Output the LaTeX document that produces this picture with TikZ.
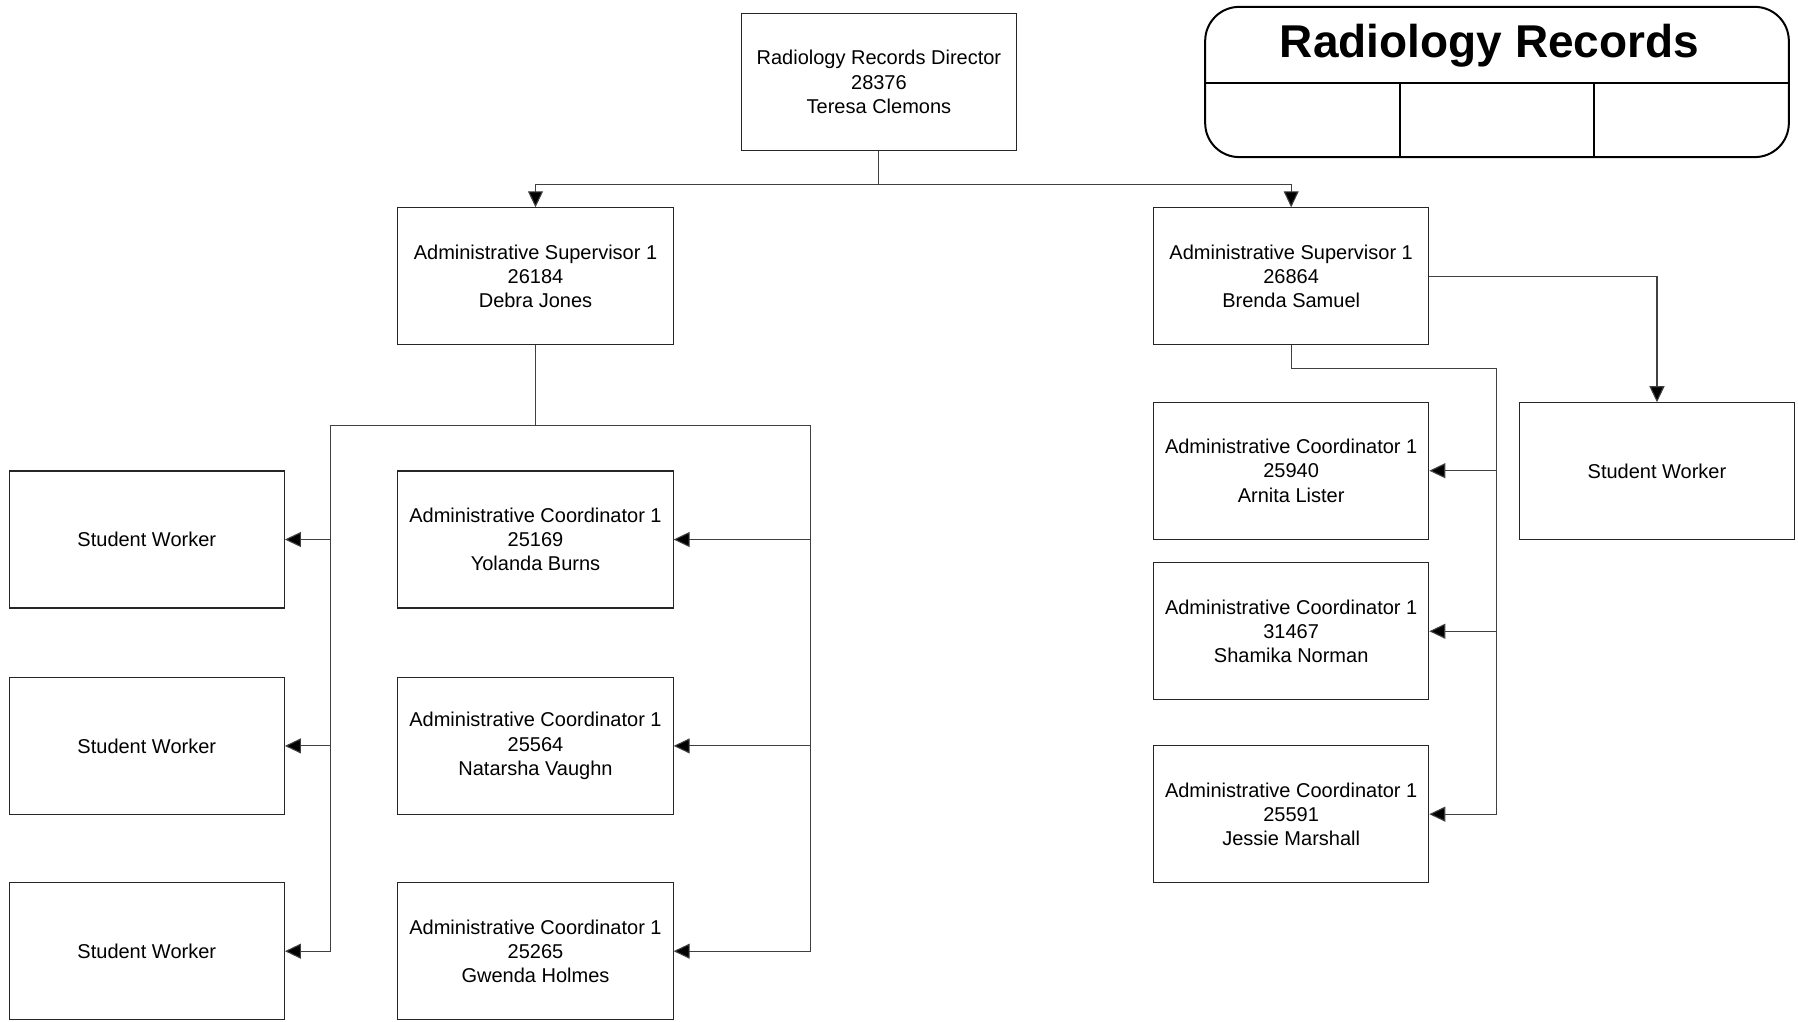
\documentclass[tikz,border=0pt]{standalone}
\usepackage{fontspec}
\setmainfont{Liberation Sans}
\usetikzlibrary{arrows.meta}
\begin{document}
\begin{tikzpicture}[x=0.57335pt,y=-0.57335pt,
  orgbox/.style={draw=black!85,line width=0.55pt,minimum width=137.6pt,minimum height=68.5pt,
     inner sep=0pt,align=center,font=\fontsize{10}{12.1}\selectfont},
  link/.style={draw=black!75,line width=0.55pt},
  arr/.style={link,-{Triangle[length=8pt,width=7.5pt,fill=black]}}]
\useasboundingbox (0,0) rectangle (1568,890.4);
% title block
\draw[line width=1pt,rounded corners=17pt] (1051,6) rectangle (1560,137);
\draw[line width=1pt] (1051,72) -- (1560,72);
\draw[line width=1pt] (1221,72) -- (1221,137);
\draw[line width=1pt] (1390,72) -- (1390,137);
\node[font=\fontsize{23}{27}\selectfont\bfseries] (title) at (1299,40) {Radiology Records};
% nodes
\node[orgbox] (dir) at (766.5,71.5) {Radiology Records Director\\28376\\Teresa Clemons};
\node[orgbox] (sup1) at (467,241) {Administrative Supervisor 1\\26184\\Debra Jones};
\node[orgbox] (sup2) at (1126,241) {Administrative Supervisor 1\\26864\\Brenda Samuel};
\node[orgbox] (sw1) at (128,470.5) {Student Worker};
\node[orgbox] (sw2) at (128,650.5) {Student Worker};
\node[orgbox] (sw3) at (128,829.5) {Student Worker};
\node[orgbox] (ac1) at (467,470.5) {Administrative Coordinator 1\\25169\\Yolanda Burns};
\node[orgbox] (ac2) at (467,650.5) {Administrative Coordinator 1\\25564\\Natarsha Vaughn};
\node[orgbox] (ac3) at (467,829.5) {Administrative Coordinator 1\\25265\\Gwenda Holmes};
\node[orgbox] (rc1) at (1126,410.5) {Administrative Coordinator 1\\25940\\Arnita Lister};
\node[orgbox] (rc2) at (1126,550.5) {Administrative Coordinator 1\\31467\\Shamika Norman};
\node[orgbox] (rc3) at (1126,710) {Administrative Coordinator 1\\25591\\Jessie Marshall};
\node[orgbox] (rsw) at (1445,411) {Student Worker};
% junctions
\coordinate (j0) at (766.5,161);
\coordinate (j1) at (467,371);
\coordinate (jl) at (288,371);
\coordinate (jr) at (707,371);
\coordinate (j2) at (1305,321);
% connectors
\draw[link] (dir.south) -- (j0);
\draw[arr] (j0) -| (sup1.north);
\draw[arr] (j0) -| (sup2.north);
\draw[link] (sup1.south) -- (j1);
\draw[link] (jl) -- (jr);
\draw[arr] (jl) |- (sw1.east);
\draw[arr] (jl) |- (sw2.east);
\draw[arr] (jl) |- (sw3.east);
\draw[arr] (jr) |- (ac1.east);
\draw[arr] (jr) |- (ac2.east);
\draw[arr] (jr) |- (ac3.east);
\draw[link] (sup2.south) |- (j2);
\draw[arr] (j2) |- (rc1.east);
\draw[arr] (j2) |- (rc2.east);
\draw[arr] (j2) |- (rc3.east);
\draw[arr] (sup2.east) -| (rsw.north);
\end{tikzpicture}
\end{document}
